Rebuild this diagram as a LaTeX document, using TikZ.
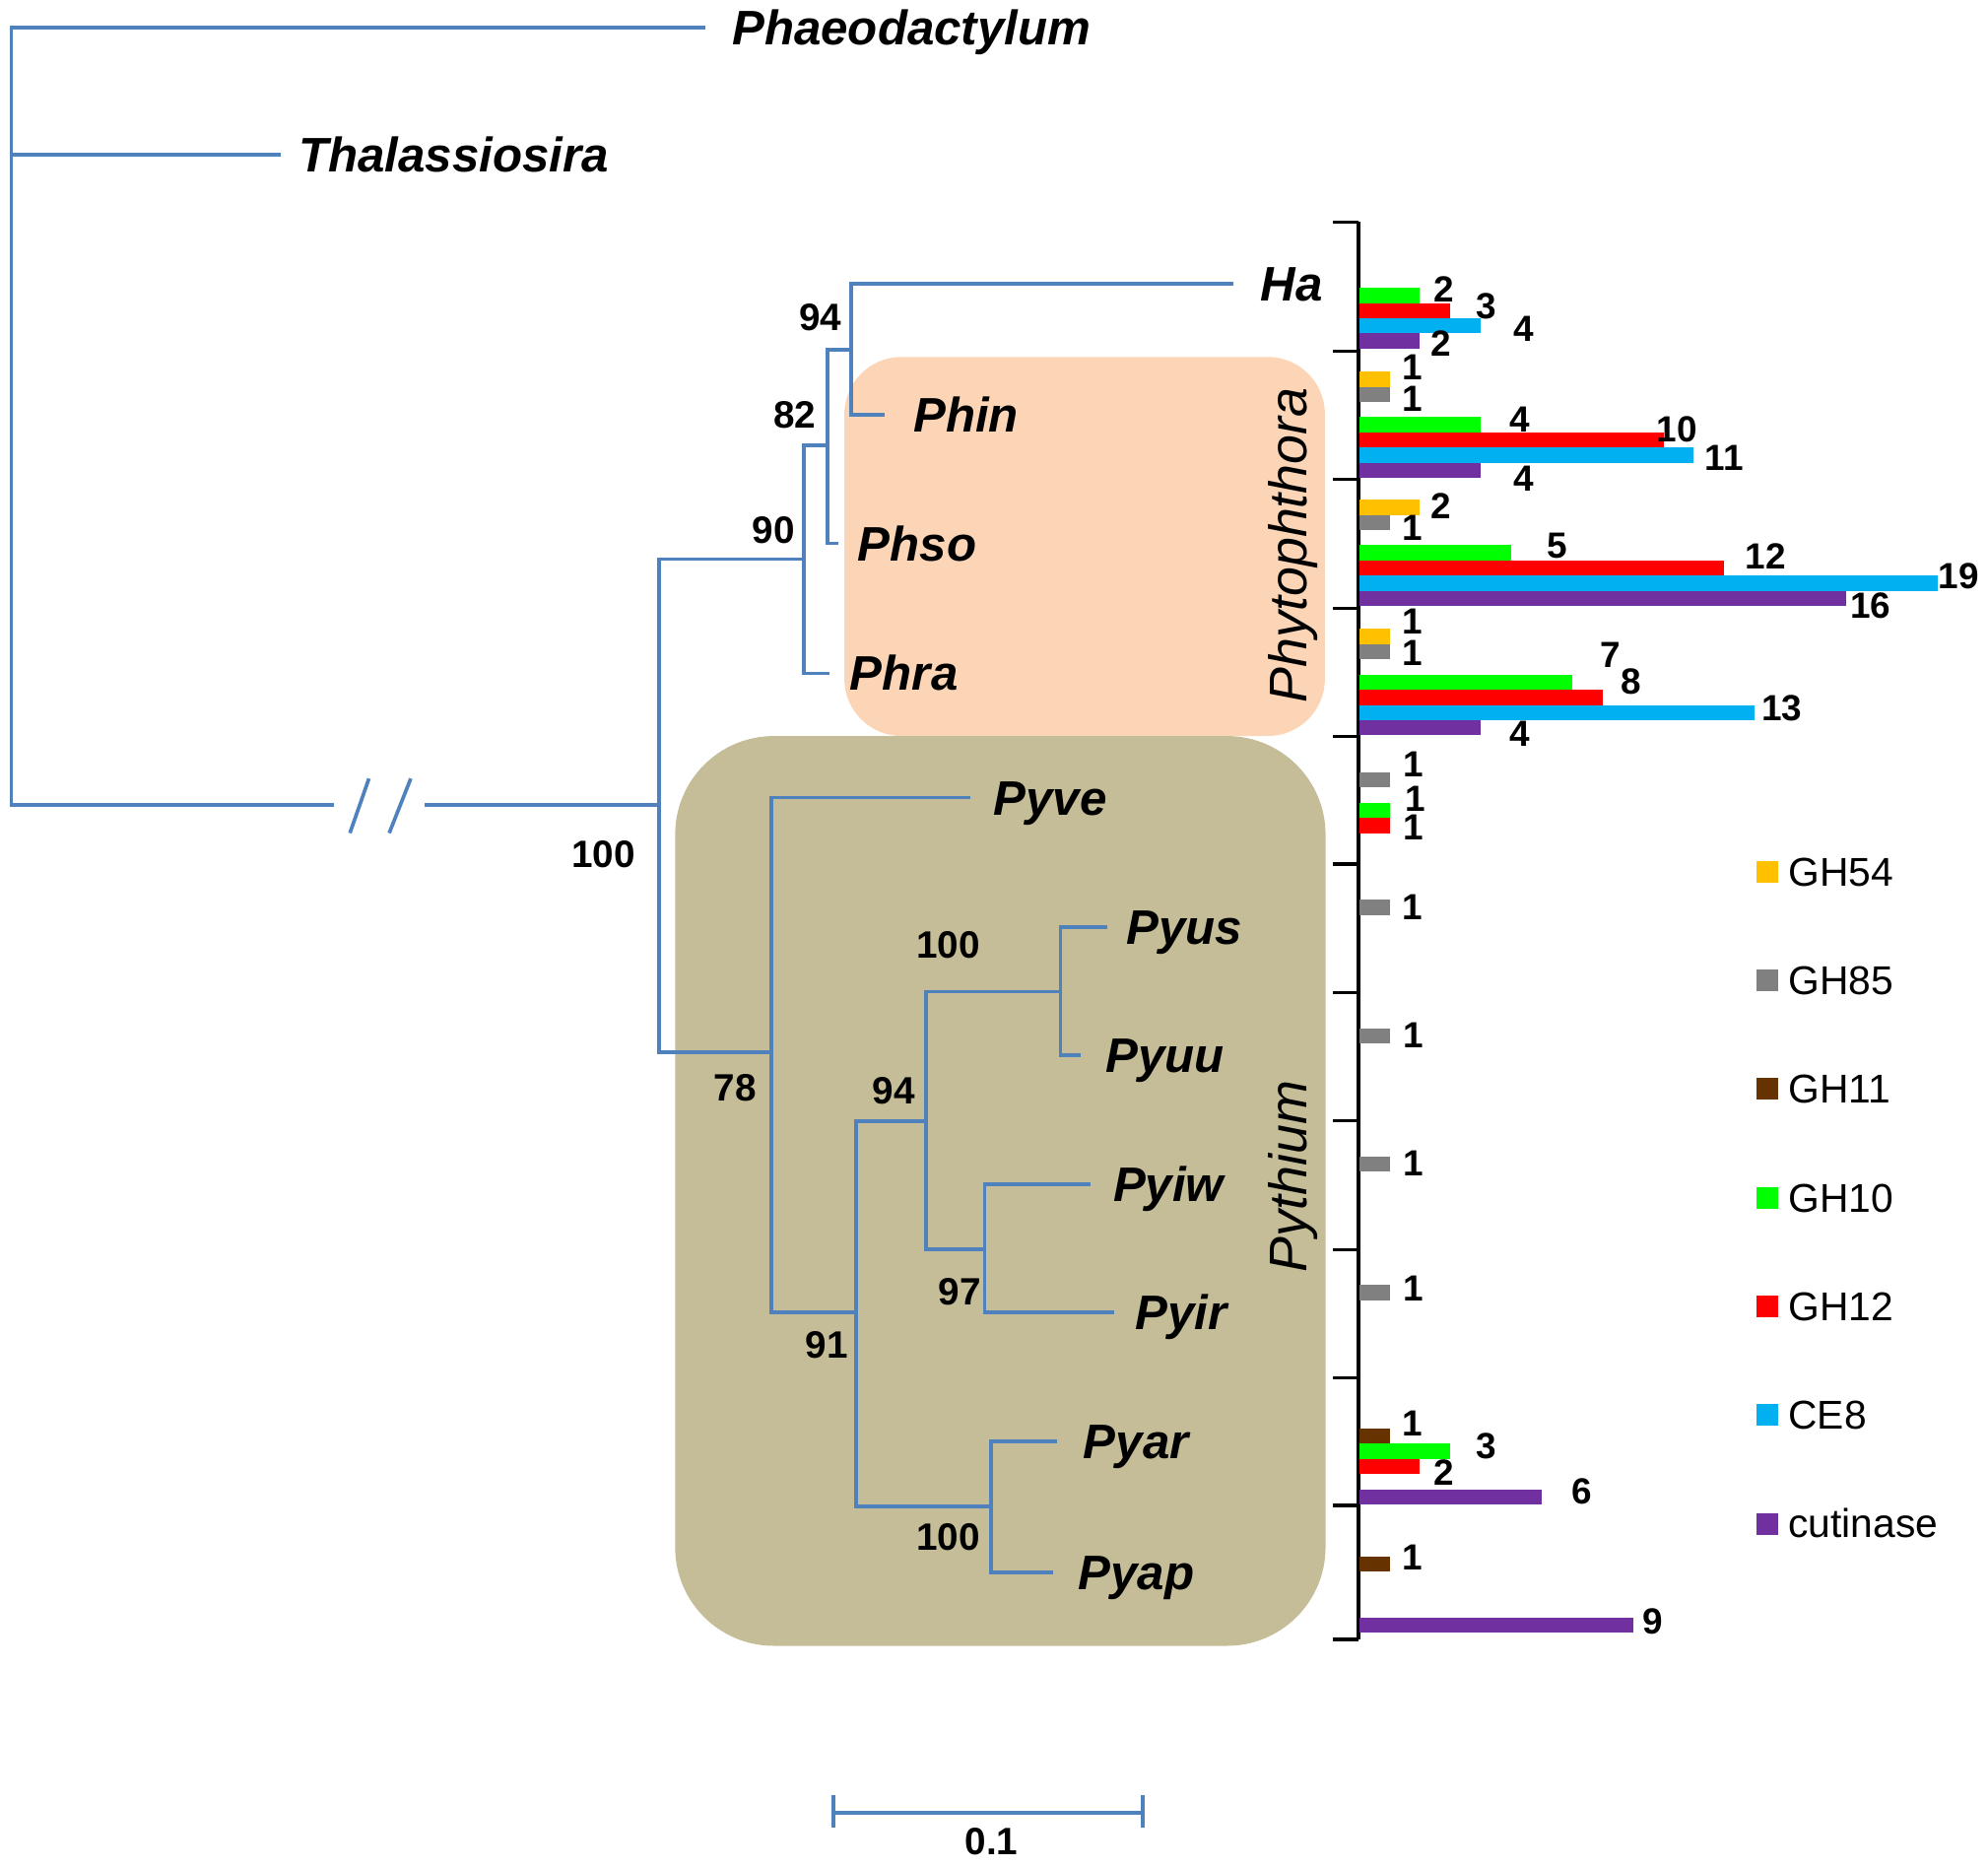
\documentclass[tikz,border=0pt]{standalone}
\usepackage{fontspec}
\setmainfont{Liberation Sans}
\begin{document}
\begin{tikzpicture}[x=0.01287cm,y=-0.01287cm,
    branch/.style={draw=tblue,line width=1.05pt},
    taxon/.style={anchor=base west,inner sep=0pt,yshift=-5pt,font=\fontsize{14}{16}\selectfont\bfseries\itshape},
    boot/.style={inner sep=0pt,font=\fontsize{11}{13}\selectfont\bfseries},
    count/.style={inner sep=0pt,font=\fontsize{10.5}{12}\selectfont\bfseries},
    clade/.style={rotate=90,inner sep=0pt,font=\fontsize{15.3}{17}\selectfont\itshape},
    legtext/.style={anchor=base west,inner sep=0pt,yshift=-4.1pt,font=\fontsize{11.6}{13}\selectfont},
    gh54/.style={fill=cgh54},gh85/.style={fill=cgh85},gh11/.style={fill=cgh11},
    gh10/.style={fill=cgh10},gh12/.style={fill=cgh12},ce8/.style={fill=cce8},
    cutin/.style={fill=ccut}]

\definecolor{tblue}{RGB}{79,129,189}
\definecolor{peach}{RGB}{251,213,181}
\definecolor{khaki}{RGB}{196,189,151}
\definecolor{cgh54}{RGB}{255,192,0}
\definecolor{cgh85}{RGB}{128,128,128}
\definecolor{cgh11}{RGB}{102,51,0}
\definecolor{cgh10}{RGB}{0,255,0}
\definecolor{cgh12}{RGB}{255,0,0}
\definecolor{cce8}{RGB}{0,176,240}
\definecolor{ccut}{RGB}{112,48,160}

\useasboundingbox (0,0) rectangle (1568,1472);

% clade boxes
\fill[peach,rounded corners=0.58cm] (666,281.5) rectangle (1045,580.5);
\fill[khaki,rounded corners=1.0cm] (532.5,580.5) rectangle (1045.5,1298);
\node[clade] (phyt) at (1020,430) {Phytophthora};
\node[clade] (pyth) at (1020,928) {Pythium};

% tree
\coordinate (root) at (9,328);
\coordinate (phae) at (556.5,22);
\coordinate (thal) at (221.5,122);
\coordinate (brka) at (263.5,635);
\coordinate (brkb) at (335,635);
\coordinate (n100) at (520,635);
\coordinate (n90) at (634,441);
\coordinate (n82) at (652.5,351);
\coordinate (n94a) at (671.5,276);
\coordinate (ha) at (973,224);
\coordinate (phin) at (697.5,327);
\coordinate (phso) at (661.5,428.5);
\coordinate (phra) at (654,531);
\coordinate (n78) at (608.5,830);
\coordinate (pyve) at (765,629);
\coordinate (n91) at (675,1035);
\coordinate (n94b) at (730.5,884);
\coordinate (n100b) at (836.5,782);
\coordinate (pyus) at (873,731);
\coordinate (pyuu) at (852.5,832);
\coordinate (n97) at (776.5,985);
\coordinate (pyiw) at (860.5,934);
\coordinate (pyir) at (879,1035);
\coordinate (n100c) at (781.5,1188);
\coordinate (pyar) at (834,1137);
\coordinate (pyap) at (830.5,1240);

\draw[branch] (root) |- (phae);
\draw[branch] (root) |- (thal);
\draw[branch] (root) |- (brka);
\draw[branch] (brkb) -- (n100);
\draw[branch] (276,657) -- (291,614);
\draw[branch] (307,657) -- (324,614);
\draw[branch] (n100) |- (n90);
\draw[branch] (n100) |- (n78);
\draw[branch] (n90) |- (n82);
\draw[branch] (n90) |- (phra);
\draw[branch] (n82) |- (n94a);
\draw[branch] (n82) |- (phso);
\draw[branch] (n94a) |- (ha);
\draw[branch] (n94a) |- (phin);
\draw[branch] (n78) |- (pyve);
\draw[branch] (n78) |- (n91);
\draw[branch] (n91) |- (n94b);
\draw[branch] (n91) |- (n100c);
\draw[branch] (n94b) |- (n100b);
\draw[branch] (n94b) |- (n97);
\draw[branch] (n100b) |- (pyus);
\draw[branch] (n100b) |- (pyuu);
\draw[branch] (n97) |- (pyiw);
\draw[branch] (n97) |- (pyir);
\draw[branch] (n100c) |- (pyar);
\draw[branch] (n100c) |- (pyap);

\node[taxon] (t-phae) at (577,22) {Phaeodactylum};
\node[taxon] (t-thal) at (235,122) {Thalassiosira};
\node[taxon] (t-ha) at (994,224) {Ha};
\node[taxon] (t-phin) at (720,327) {Phin};
\node[taxon] (t-phso) at (676,428.5) {Phso};
\node[taxon] (t-phra) at (670,531) {Phra};
\node[taxon] (t-pyve) at (783,629) {Pyve};
\node[taxon] (t-pyus) at (888,731) {Pyus};
\node[taxon] (t-pyuu) at (871.5,832) {Pyuu};
\node[taxon] (t-pyiw) at (877.5,934) {Pyiw};
\node[taxon] (t-pyir) at (895,1035) {Pyir};
\node[taxon] (t-pyar) at (854,1137) {Pyar};
\node[taxon] (t-pyap) at (850,1240) {Pyap};

% bootstrap values
\node[boot] (b94a) at (647,250) {94};
\node[boot] (b82) at (627,327) {82};
\node[boot] (b90) at (610,418) {90};
\node[boot] (b100a) at (476,674) {100};
\node[boot] (b78) at (580,858) {78};
\node[boot] (b100b) at (748,745) {100};
\node[boot] (b94b) at (705,860) {94};
\node[boot] (b97) at (757,1019) {97};
\node[boot] (b91) at (652,1061) {91};
\node[boot] (b100c) at (748,1212) {100};

% scale bar
\coordinate (sbl) at (657.5,1429.5);
\coordinate (sbr) at (901.5,1429.5);
\draw[branch] (sbl) -- (sbr);
\draw[branch] (657.5,1416) -- (657.5,1441);
\draw[branch] (901.5,1416) -- (901.5,1441);
\node[boot] (sblab) at (782,1452.5) {0.1};

% bar axis
\draw[line width=0.9pt] (1071.5,175) -- (1071.5,1293);
\draw[line width=0.9pt] (1051.5,175) -- (1071.5,175) (1051.5,277) -- (1071.5,277)
  (1051.5,378) -- (1071.5,378) (1051.5,479.6) -- (1071.5,479.6)
  (1051.5,581) -- (1071.5,581) (1051.5,681.4) -- (1071.5,681.4)
  (1051.5,782.7) -- (1071.5,782.7) (1051.5,884) -- (1071.5,884)
  (1051.5,985.5) -- (1071.5,985.5) (1051.5,1086.4) -- (1071.5,1086.4)
  (1051.5,1187.3) -- (1071.5,1187.3) (1051.5,1293) -- (1071.5,1293);

% Ha
\fill[gh10] (1072,227) rectangle (1120,239);
\fill[gh12] (1072,239) rectangle (1144,251);
\fill[ce8] (1072,251) rectangle (1168,263);
\fill[cutin] (1072,263) rectangle (1120,275);
\node[count] (c1) at (1139,228.5) {2};
\node[count] (c2) at (1172.5,241.7) {3};
\node[count] (c3) at (1201.5,259.5) {4};
\node[count] (c4) at (1136.5,271) {2};

% Phin
\fill[gh54] (1072,293) rectangle (1096,305);
\fill[gh85] (1072,305) rectangle (1096,317);
\fill[gh10] (1072,329) rectangle (1168,341);
\fill[gh12] (1072,341) rectangle (1312,353);
\fill[ce8] (1072,353) rectangle (1336,365);
\fill[cutin] (1072,365) rectangle (1168,377);
\node[count] (c5) at (1114,290) {1};
\node[count] (c6) at (1114,314.4) {1};
\node[count] (c7) at (1199,331) {4};
\node[count] (c8) at (1322.5,338.8) {10};
\node[count] (c9) at (1360,361.4) {11};
\node[count] (c10) at (1201.5,377.8) {4};

% Phso
\fill[gh54] (1072,394) rectangle (1120,406);
\fill[gh85] (1072,406) rectangle (1096,418);
\fill[gh10] (1072,430) rectangle (1192,442);
\fill[gh12] (1072,442) rectangle (1360,454);
\fill[ce8] (1072,454) rectangle (1528,466);
\fill[cutin] (1072,466) rectangle (1456,478);
\node[count] (c11) at (1136.5,399) {2};
\node[count] (c12) at (1114,416.7) {1};
\node[count] (c13) at (1228,430.8) {5};
\node[count] (c14) at (1392.5,438.8) {12};
\node[count] (c15) at (1545,454.3) {19};
\node[count] (c16) at (1475.5,477.7) {16};

% Phra
\fill[gh54] (1072,496) rectangle (1096,508);
\fill[gh85] (1072,508) rectangle (1096,520);
\fill[gh10] (1072,532) rectangle (1240,544);
\fill[gh12] (1072,544) rectangle (1264,556);
\fill[ce8] (1072,556) rectangle (1384,568);
\fill[cutin] (1072,568) rectangle (1168,580);
\node[count] (c17) at (1114,490.4) {1};
\node[count] (c18) at (1114,514.8) {1};
\node[count] (c19) at (1270,516.2) {7};
\node[count] (c20) at (1286.5,537.4) {8};
\node[count] (c21) at (1405.5,558.5) {13};
\node[count] (c22) at (1199,578.7) {4};

% Pyve
\fill[gh85] (1072,609) rectangle (1096,621);
\fill[gh10] (1072,633) rectangle (1096,645);
\fill[gh12] (1072,645) rectangle (1096,657);
\node[count] (c23) at (1115,603) {1};
\node[count] (c24) at (1116.5,630.3) {1};
\node[count] (c25) at (1115,652.3) {1};

% Pyus, Pyuu, Pyiw, Pyir
\fill[gh85] (1072,709.5) rectangle (1096,721.5);
\fill[gh85] (1072,811) rectangle (1096,823);
\fill[gh85] (1072,912) rectangle (1096,924);
\fill[gh85] (1072,1013.5) rectangle (1096,1025.5);
\node[count] (c26) at (1114,715.7) {1};
\node[count] (c27) at (1115,816.5) {1};
\node[count] (c28) at (1115,917.4) {1};
\node[count] (c29) at (1115,1016.4) {1};

% Pyar
\fill[gh11] (1072,1126.5) rectangle (1096,1138.5);
\fill[gh10] (1072,1138.5) rectangle (1144,1150.5);
\fill[gh12] (1072,1150.5) rectangle (1120,1162.5);
\fill[cutin] (1072,1174.5) rectangle (1216,1186.5);
\node[count] (c30) at (1114,1123) {1};
\node[count] (c31) at (1172.5,1140.3) {3};
\node[count] (c32) at (1139,1161.5) {2};
\node[count] (c33) at (1248,1176) {6};

% Pyap
\fill[gh11] (1072,1227.5) rectangle (1096,1239.5);
\fill[cutin] (1072,1275.5) rectangle (1288,1287.5);
\node[count] (c34) at (1114,1228.6) {1};
\node[count] (c35) at (1304,1278.8) {9};

% legend
\fill[gh54] (1385.5,679) rectangle (1402.5,696);
\fill[gh85] (1385.5,764.7) rectangle (1402.5,781.7);
\fill[gh11] (1385.5,850.4) rectangle (1402.5,867.4);
\fill[gh10] (1385.5,936.1) rectangle (1402.5,953.1);
\fill[gh12] (1385.5,1021.8) rectangle (1402.5,1038.8);
\fill[ce8] (1385.5,1107.5) rectangle (1402.5,1124.5);
\fill[cutin] (1385.5,1193.2) rectangle (1402.5,1210.2);
\node[legtext] (lg1) at (1410,687.5) {GH54};
\node[legtext] (lg2) at (1410,773.2) {GH85};
\node[legtext] (lg3) at (1410,858.9) {GH11};
\node[legtext] (lg4) at (1410,944.6) {GH10};
\node[legtext] (lg5) at (1410,1030.3) {GH12};
\node[legtext] (lg6) at (1410,1116) {CE8};
\node[legtext] (lg7) at (1410,1201.7) {cutinase};

\end{tikzpicture}
\end{document}
